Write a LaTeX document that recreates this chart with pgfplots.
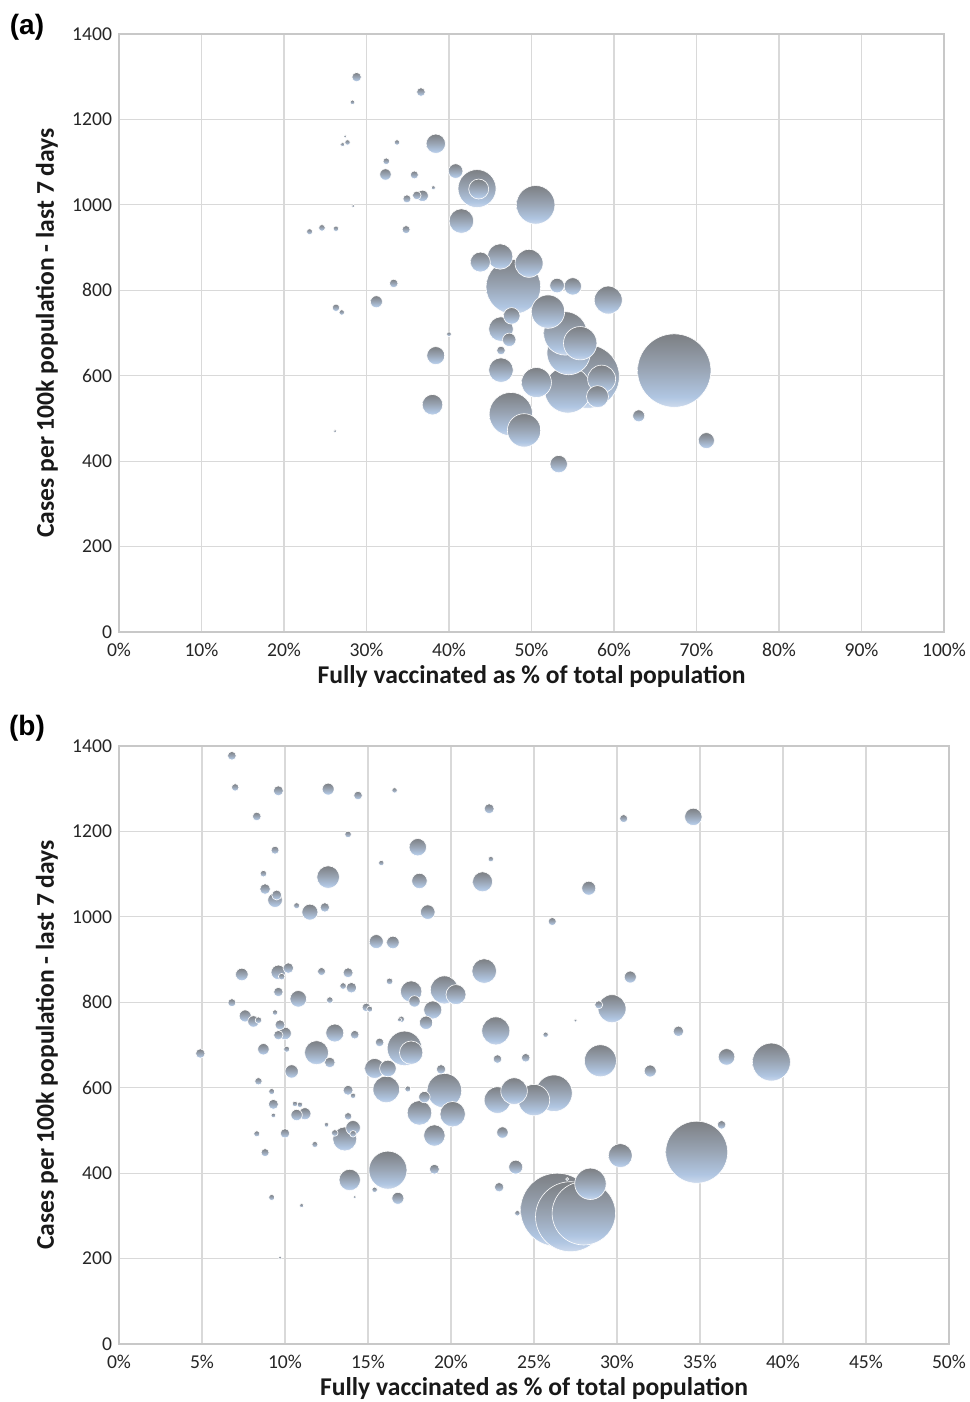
\documentclass[border=0pt]{standalone}
\usepackage{fontspec}
\setmainfont{Carlito}
\newfontfamily\arialfont{Liberation Sans}
\usepackage{pgfplots}
\pgfplotsset{compat=1.18}

\definecolor{gridc}{RGB}{217,217,217}
\definecolor{axisc}{RGB}{200,200,200}
\definecolor{bubtop}{RGB}{124,127,131}
\definecolor{bubmid}{RGB}{152,163,178}
\definecolor{bubbot}{RGB}{176,198,226}
\definecolor{bubedge}{RGB}{205,218,237}

% vertical gradient: light blue at the bottom, grey at the top
\pgfdeclareverticalshading{bubshade}{100bp}{color(0bp)=(bubedge); color(25bp)=(bubedge);
  color(32bp)=(bubbot); color(52bp)=(bubmid); color(75bp)=(bubtop); color(100bp)=(bubtop)}

\pgfdeclareplotmark{bubble}{%
  \pgfpathcircle{\pgfpointorigin}{\pgfplotmarksize}%
  \pgfshadepath{bubshade}{0}%
  \pgfsetstrokecolor{white}\pgfsetlinewidth{0.3pt}%
  \pgfusepath{stroke}%
}

\pgfplotsset{
  panel/.style={
    scale only axis, height=299pt,
    ymin=0, ymax=1400, ytick={0,200,...,1400},
    grid=major, major grid style={draw=gridc, line width=0.6pt},
    axis line style={draw=axisc, line width=0.6pt},
    major tick length=0pt,
    tick label style={font=\fontsize{9.8}{12}\selectfont, text=black!85},
    /pgf/number format/assume math mode=true,
    /pgf/number format/1000 sep={},
    xticklabel={\pgfmathprintnumber{\tick}\%},
    xticklabel style={yshift=-2pt},
    label style={font=\fontsize{12.8}{15}\selectfont\bfseries, text=black!90},
    xlabel={Fully vaccinated as \% of total population},
    ylabel={Cases per 100k population - last 7 days},
    xlabel style={at={(axis description cs:0.5,0)}, anchor=center, yshift=-22.5pt},
    ylabel style={at={([xshift=-36pt]axis description cs:0,0.5)}, anchor=center},
  },
  bub/.style={
    scatter, only marks, mark=bubble,
    visualization depends on={\thisrow{r} \as \rr},
    scatter/@pre marker code/.append style={/tikz/mark size=\rr/2},
  },
}

\begin{document}
\begin{tikzpicture}
\path[use as bounding box] (0,0) rectangle (484.5pt,701pt);

% (a)
\begin{axis}[panel, at={(59.5pt,385pt)}, anchor=south west,
  width=412.5pt, xmin=0, xmax=100, xtick={0,10,...,100}]
\addplot[bub] table {
x y r
67.3 612 36.7
56.8 598 31.7
47.8 808 27.3
54.4 567 23.3
54.5 653 21.7
54.1 699 21.7
47.5 510 21.7
50.5 1000 19.3
43.4 1038 19
52.0 750 16.7
55.9 676 16.7
49.1 472 16.7
50.6 584 15
49.7 863 14
59.3 777 14
58.5 592 14
46.2 879 12.7
41.5 962 12.3
46.3 709 12.3
46.3 613 12.3
58.0 551 11
43.8 866 10
38.0 532 10.3
43.6 1037 10
38.4 1143 9.7
38.4 647 9
55.0 809 8.7
53.3 393 8.7
47.6 740 8.3
71.2 448 8
40.8 1079 7.3
53.1 811 7.3
47.3 684 6.7
31.2 773 6
63.0 506 6
32.3 1071 5.7
36.8 1021 5.7
28.8 1299 4.7
36.6 1264 4.3
33.3 816 4.3
36.1 1022 4.3
46.3 659 4.3
35.8 1070 4
34.9 1014 4
34.8 942 4
26.3 759 3.7
32.4 1102 3.3
24.6 946 3.3
23.1 937 3
27.7 1146 2.7
33.7 1146 2.7
26.3 944 2.7
27.0 748 2.7
28.3 1240 2.3
40.0 697 2.3
38.1 1040 2
27.1 1141 2
27.4 1160 1.7
28.4 997 1.7
26.2 470 1.7
};
\end{axis}

% (b)
\begin{axis}[panel, at={(59.5pt,29pt)}, anchor=south west,
  width=415pt, xmin=0, xmax=50, xtick={0,5,...,50}]
\addplot[bub] table {
x y r
26.4 314 36.7
27.2 298 35
28.0 306 31.7
34.8 449 31
39.3 660 19
16.2 407 19
26.2 587 18.3
17.2 692 17.3
19.6 593 17.3
29.0 663 16
25.0 571 15.7
28.4 375 15.7
19.6 829 14
22.7 733 14
29.7 785 14
16.1 596 13.3
22.8 571 13.3
23.8 592 13.3
20.1 538 12.7
22.0 873 12.3
18.1 541 12.3
11.9 682 12
13.6 480 12
30.2 441 12
17.6 682 11.7
12.6 1093 11.3
17.6 825 10.7
19.0 488 10.7
13.9 384 10.7
21.9 1082 10
20.3 818 10
15.4 645 10
18.9 782 9
13.0 728 9
18.0 1163 8.7
34.6 1234 8.7
16.2 645 8.3
10.8 808 8.3
36.6 672 8.3
11.5 1011 8
18.1 1084 7.7
18.6 1011 7.3
9.4 1039 7.3
14.1 506 7.3
9.6 870 7.3
15.5 942 7
28.3 1067 7
23.9 414 7
18.5 752 6.7
10.4 638 6.7
16.5 940 6.3
7.4 865 6.3
10.0 727 6.3
16.8 341 6
12.6 1299 6
30.8 859 6
32.0 639 6
7.6 768 6
11.2 539 6
8.1 755 5.7
8.7 690 5.7
10.7 536 5.7
17.8 802 5.7
18.4 578 5.7
23.1 495 5.7
8.8 1065 5.3
10.2 880 5.3
14.0 834 5.3
12.7 659 5.3
33.7 732 5.3
9.6 1295 5
22.3 1253 5
9.5 1051 5
13.8 869 5
9.7 747 5
9.3 561 5
13.8 594 5
19.0 409 5
12.4 1022 4.7
9.6 824 4.7
9.6 723 4.7
4.9 680 4.7
10.0 493 4.7
19.4 643 4.7
22.9 367 4.7
6.8 1377 4.3
14.4 1284 4.3
8.3 1235 4.3
14.2 724 4.3
15.7 706 4.3
14.9 788 4.3
22.8 667 4.3
24.5 670 4.3
36.3 513 4.3
9.4 1156 4
12.2 872 4
6.8 799 4
8.8 448 4
30.4 1230 4
26.1 989 4
28.9 794 4
7.0 1303 3.7
8.4 615 3.7
13.8 533 3.7
13.8 1193 3.3
8.7 1101 3.3
12.7 805 3.3
13.5 838 3.3
9.8 860 3.3
8.4 758 3.3
16.3 849 3.3
17.0 760 3.3
13.0 494 3.3
14.1 492 3.3
10.7 1026 3
15.1 784 3
10.1 690 3
9.2 591 3
8.3 492 3
11.8 467 3
9.2 343 3
17.4 597 3
16.6 1296 2.7
15.8 1126 2.7
9.4 776 2.7
10.6 562 2.7
10.9 560 2.7
14.1 581 2.7
15.4 361 2.7
22.4 1135 2.7
25.7 724 2.7
24.0 306 2.7
9.3 535 2.3
12.5 513 2.3
16.9 759 2
11.0 324 2
14.2 344 1.7
9.7 202 1.7
27.5 757 1.7
27.0 386 1.5
};
\end{axis}

\node[font=\arialfont\bfseries\fontsize{14}{16}\selectfont] at (13.5pt,687.5pt) {(a)};
\node[font=\arialfont\bfseries\fontsize{14}{16}\selectfont] at (13.5pt,337pt) {(b)};
\end{tikzpicture}
\end{document}
